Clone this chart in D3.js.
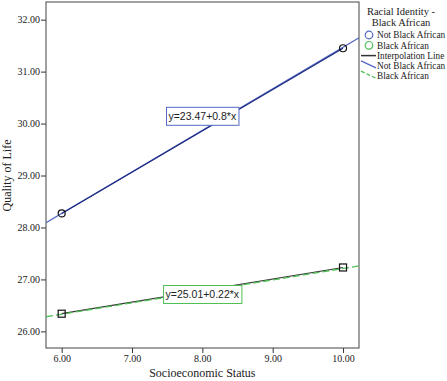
<!DOCTYPE html>
<html>
<head>
<meta charset="utf-8">
<script src="https://cdn.jsdelivr.net/npm/d3@7"></script>
<style>
  body { margin: 0; background: #fff; }
  text { font-family: "Liberation Serif", "Times New Roman", serif; fill: #222; }
  .eq text { font-family: "Liberation Sans", Arial, sans-serif; }
</style>
</head>
<body>
<div id="chart"></div>
<script>
// data
const groups = ['Not Black African', 'Black African']
const xPoints = [6, 10]
const notBlackMeans = [28.27, 31.45]
const blackMeans = [26.34, 27.23]
const intercepts = [23.47, 25.01]
const slopes = [0.8, 0.22]
const eqLabels = ['y=23.47+0.8*x', 'y=25.01+0.22*x']
const xTicks = [6, 7, 8, 9, 10]
const yTicks = [26, 27, 28, 29, 30, 31, 32]

const W = 447, H = 381
const margin = {top: 2, right: 88, bottom: 33, left: 46}
const width = W - margin.left - margin.right
const height = H - margin.top - margin.bottom

const blue = '#5468c4', navy = '#1c2a80', green = '#4fbf55'

const svg = d3.select('#chart').append('svg')
  .attr('width', W).attr('height', H)
const g = svg.append('g')
  .attr('transform', 'translate(' + margin.left + ',' + margin.top + ')')

const x = d3.scaleLinear().domain([5.777, 10.227]).range([0, width])
const y = d3.scaleLinear().domain([25.68, 32.34]).range([height, 0])

// axes
const xAxis = g.append('g')
  .attr('transform', 'translate(0,' + height + ')')
  .call(d3.axisBottom(x).tickValues(xTicks).tickFormat(d3.format('.2f')).tickSize(5).tickPadding(2))
const yAxis = g.append('g')
  .call(d3.axisLeft(y).tickValues(yTicks).tickFormat(d3.format('.2f')).tickSize(5).tickPadding(1))
;[xAxis, yAxis].forEach(a => {
  a.select('.domain').remove()
  a.selectAll('.tick line').attr('stroke', '#333')
  a.selectAll('.tick text').attr('font-size', 10)
    .attr('font-family', '"Liberation Serif", serif').attr('fill', '#222')
})

// frame
g.append('rect')
  .attr('width', width).attr('height', height)
  .attr('fill', 'none').attr('stroke', '#444').attr('stroke-width', 1)

// axis titles
g.append('text')
  .attr('x', x(8)).attr('y', height + 29)
  .attr('text-anchor', 'middle').attr('font-size', 12)
  .text('Socioeconomic Status')
g.append('text')
  .attr('transform', 'translate(' + (-35) + ',' + y(29) + ') rotate(-90)')
  .attr('text-anchor', 'middle').attr('font-size', 12)
  .text('Quality of Life')

const clip = g.append('defs').append('clipPath').attr('id', 'clip')
  .append('rect').attr('width', width).attr('height', height)
const plot = g.append('g').attr('clip-path', 'url(#clip)')

const fitLine = i => d3.line()
  .x(d => x(d))
  .y(d => y(intercepts[i] + slopes[i] * d))(x.domain())

// group 1: blue fit line + navy interpolation
plot.append('path').attr('d', fitLine(0))
  .attr('fill', 'none').attr('stroke', blue).attr('stroke-width', 1.2)
const line = d3.line().x((d, i) => x(xPoints[i])).y(d => y(d))
plot.append('path').attr('d', line(notBlackMeans))
  .attr('fill', 'none').attr('stroke', navy).attr('stroke-width', 1.2)

// group 2: dark interpolation + green dashed fit
plot.append('path').attr('d', line(blackMeans))
  .attr('fill', 'none').attr('stroke', '#333').attr('stroke-width', 1.2)
plot.append('path').attr('d', fitLine(1))
  .attr('fill', 'none').attr('stroke', green).attr('stroke-width', 1.3)
  .attr('stroke-dasharray', '7,3')

// markers
plot.selectAll('circle.pt').data(notBlackMeans).enter().append('circle')
  .attr('class', 'pt')
  .attr('cx', (d, i) => x(xPoints[i])).attr('cy', d => y(d))
  .attr('r', 3.5).attr('fill', 'none').attr('stroke', '#111').attr('stroke-width', 1.2)
plot.selectAll('rect.pt').data(blackMeans).enter().append('rect')
  .attr('class', 'pt')
  .attr('x', (d, i) => x(xPoints[i]) - 3.5).attr('y', d => y(d) - 3.5)
  .attr('width', 7).attr('height', 7)
  .attr('fill', 'none').attr('stroke', '#111').attr('stroke-width', 1.2)

// equation labels
const eqPos = [[8, 30.14], [8, 26.71]]
const eqColors = [blue, green]
eqLabels.forEach((lab, i) => {
  const eg = g.append('g').attr('class', 'eq')
  const t = eg.append('text')
    .attr('x', x(eqPos[i][0])).attr('y', y(eqPos[i][1]))
    .attr('text-anchor', 'middle').attr('dy', '0.35em')
    .attr('font-size', 10.5).attr('fill', '#111')
    .text(lab)
  const bb = t.node().getBBox()
  eg.insert('rect', 'text')
    .attr('x', bb.x - 2).attr('y', y(eqPos[i][1]) - 9)
    .attr('width', bb.width + 4).attr('height', 18)
    .attr('fill', '#fff').attr('stroke', eqColors[i]).attr('stroke-width', 1)
})

// legend
const lg = svg.append('g')
lg.append('text').attr('x', 401).attr('y', 15)
  .attr('text-anchor', 'middle').attr('font-size', 10.5).text('Racial Identity -')
lg.append('text').attr('x', 401).attr('y', 26)
  .attr('text-anchor', 'middle').attr('font-size', 10.5).text('Black African')

const legendItems = [
  {label: groups[0], kind: 'circle', color: blue},
  {label: groups[1], kind: 'circle', color: green},
  {label: 'Interpolation Line', kind: 'flat', color: '#333'},
  {label: groups[0], kind: 'slant', color: blue},
  {label: groups[1], kind: 'slant', color: green, dash: '4,2'}
]
const item = lg.selectAll('.legend').data(legendItems).enter().append('g')
  .attr('class', 'legend')
  .attr('transform', (d, i) => 'translate(0,' + (35 + i * 10.3) + ')')
item.filter(d => d.kind === 'circle').append('circle')
  .attr('cx', 369).attr('cy', 0).attr('r', 3.8)
  .attr('fill', 'none').attr('stroke', d => d.color).attr('stroke-width', 1.2)
item.filter(d => d.kind === 'flat').append('line')
  .attr('x1', 361).attr('x2', 376).attr('y1', 0).attr('y2', 0)
  .attr('stroke', d => d.color).attr('stroke-width', 1.5)
item.filter(d => d.kind === 'slant').append('line')
  .attr('x1', 361).attr('x2', 376).attr('y1', -5).attr('y2', 2)
  .attr('stroke', d => d.color).attr('stroke-width', 1.3)
  .attr('stroke-dasharray', d => d.dash || null)
item.append('text')
  .attr('x', 377).attr('y', 0).attr('dy', '0.35em')
  .attr('font-size', 9.3).text(d => d.label)
</script>
</body>
</html>
